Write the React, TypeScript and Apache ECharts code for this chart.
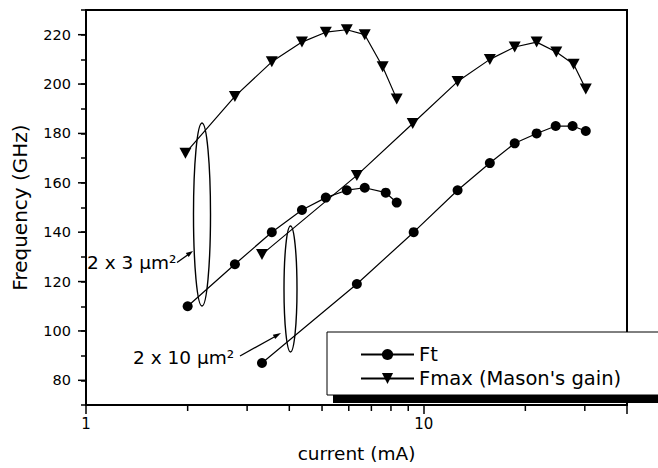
import React, { useEffect, useRef } from "react";
import * as echarts from "echarts";

// Small device (2 x 3 µm²)
const ftSmallCurrent = [2.0, 2.76, 3.55, 4.36, 5.13, 5.92, 6.69, 7.72, 8.32];
const ftSmallFreq = [110, 127, 140, 149, 154, 157, 158, 156, 152];
const fmaxSmallCurrent = [1.97, 2.76, 3.55, 4.36, 5.13, 5.92, 6.69, 7.56, 8.32];
const fmaxSmallFreq = [172, 195, 209, 217, 221, 222, 220, 207, 194];

// Large device (2 x 10 µm²)
const ftLargeCurrent = [3.32, 6.34, 9.34, 12.6, 15.7, 18.6, 21.6, 24.6, 27.6, 30.2];
const ftLargeFreq = [87, 119, 140, 157, 168, 176, 180, 183, 183, 181];
const fmaxLargeCurrent = [3.32, 6.34, 9.28, 12.6, 15.7, 18.6, 21.6, 24.7, 27.8, 30.2];
const fmaxLargeFreq = [131, 163, 184, 201, 210, 215, 217, 213, 208, 198];

// Axis ticks
const xMinorTicks = [2, 3, 4, 5, 6, 7, 8, 9, 20, 30];
const yMajorTicks = [80, 100, 120, 140, 160, 180, 200, 220];

const FT = "Ft";
const FMAX = "Fmax (Mason's gain)";
const FONT = "DejaVu Sans";

const pairs = (xs: number[], ys: number[]) => xs.map((x, i) => [x, ys[i]]);

export default function App() {
  const ref = useRef<HTMLDivElement>(null);

  useEffect(() => {
    if (!ref.current) return;
    const chart = echarts.init(ref.current, undefined, { renderer: "svg" });

    const lineBase = {
      type: "line" as const,
      color: "#000",
      lineStyle: { color: "#000", width: 1.2 },
      itemStyle: { color: "#000" },
      emphasis: { disabled: true },
      z: 5,
    };
    const circle = { symbol: "circle", symbolSize: 10 };
    const tri = { symbol: "triangle", symbolRotate: 180, symbolSize: [12, 11] };

    const option: any = {
      animation: false,
      backgroundColor: "#fff",
      grid: {
        left: 86,
        right: 31,
        top: 10,
        bottom: 59,
        show: true,
        borderColor: "#000",
        borderWidth: 2,
        backgroundColor: "transparent",
      },
      xAxis: {
        type: "log",
        logBase: 10,
        min: 1,
        max: 40,
        name: "current (mA)",
        nameLocation: "middle",
        nameGap: 39,
        nameTextStyle: { fontFamily: FONT, fontSize: 18.5, color: "#000" },
        axisLine: { lineStyle: { color: "#000", width: 2 } },
        axisTick: { show: true, length: 9, inside: false, lineStyle: { color: "#000", width: 1.5 } },
        axisLabel: {
          fontFamily: FONT,
          fontSize: 15,
          color: "#000",
          margin: 11,
          formatter: (v: number) => {
            const l = Math.log10(v);
            return Math.abs(l - Math.round(l)) < 1e-6 ? String(Math.round(v)) : "";
          },
        },
        splitLine: { show: false },
        minorTick: { show: false },
      },
      yAxis: {
        type: "value",
        min: 70,
        max: 230,
        interval: 10,
        name: "Frequency (GHz)",
        nameLocation: "middle",
        nameGap: 56,
        nameTextStyle: { fontFamily: FONT, fontSize: 20, color: "#000" },
        axisLine: { show: true, lineStyle: { color: "#000", width: 2 } },
        axisTick: { show: true, length: 5, inside: false, lineStyle: { color: "#000", width: 1.5 } },
        axisLabel: {
          fontFamily: FONT,
          fontSize: 14.5,
          color: "#000",
          margin: 15,
          formatter: (v: number) => (v % 20 === 0 ? String(v) : ""),
        },
        splitLine: { show: false },
      },
      legend: {
        data: [FT, FMAX],
        orient: "vertical",
        left: 360,
        top: 343,
        itemWidth: 53,
        itemHeight: 14,
        itemGap: 1,
        padding: 0,
        selectedMode: false,
        textStyle: { fontFamily: FONT, fontSize: 19.5, color: "#000", lineHeight: 23 },
        z: 10,
      },
      graphic: [
        // legend shadow and box
        {
          type: "rect",
          z: 8,
          shape: { x: 333, y: 394, width: 340, height: 9 },
          style: { fill: "#000" },
        },
        {
          type: "rect",
          z: 9,
          shape: { x: 327, y: 332, width: 340, height: 63 },
          style: { fill: "#fff", stroke: "#000", lineWidth: 1 },
        },
        // device ellipses
        {
          type: "ellipse",
          z: 6,
          shape: { cx: 202, cy: 214.5, rx: 8.5, ry: 91.5 },
          style: { fill: "none", stroke: "#000", lineWidth: 1.4 },
        },
        {
          type: "ellipse",
          z: 6,
          shape: { cx: 290.5, cy: 289, rx: 6.5, ry: 63 },
          style: { fill: "none", stroke: "#000", lineWidth: 1.4 },
        },
        // labels
        {
          type: "text",
          z: 6,
          x: 87,
          y: 262,
          style: {
            text: "2 x 3 µm²",
            fontFamily: FONT,
            fontSize: 18.5,
            fill: "#000",
            textAlign: "left",
            textVerticalAlign: "middle",
          },
        },
        {
          type: "text",
          z: 6,
          x: 133,
          y: 357,
          style: {
            text: "2 x 10 µm²",
            fontFamily: FONT,
            fontSize: 18.5,
            fill: "#000",
            textAlign: "left",
            textVerticalAlign: "middle",
          },
        },
        // arrows
        {
          type: "line",
          z: 6,
          shape: { x1: 177, y1: 262.5, x2: 189, y2: 254 },
          style: { stroke: "#000", lineWidth: 1.3 },
        },
        {
          type: "polygon",
          z: 6,
          shape: { points: [[193, 251], [188.7, 257.1], [185.8, 253.0]] },
          style: { fill: "#000" },
        },
        {
          type: "line",
          z: 6,
          shape: { x1: 240, y1: 356, x2: 276, y2: 336 },
          style: { stroke: "#000", lineWidth: 1.3 },
        },
        {
          type: "polygon",
          z: 6,
          shape: { points: [[281, 333], [275.2, 339.1], [272.8, 334.7]] },
          style: { fill: "#000" },
        },
      ],
      series: [
        { ...lineBase, ...circle, name: FT, data: pairs(ftSmallCurrent, ftSmallFreq) },
        { ...lineBase, ...circle, name: FT, data: pairs(ftLargeCurrent, ftLargeFreq) },
        { ...lineBase, ...tri, name: FMAX, data: pairs(fmaxSmallCurrent, fmaxSmallFreq) },
        { ...lineBase, ...tri, name: FMAX, data: pairs(fmaxLargeCurrent, fmaxLargeFreq) },
        {
          type: "custom",
          name: "xMinorTicks",
          silent: true,
          clip: false,
          z: 4,
          data: xMinorTicks.map((v) => [v, 70]),
          renderItem: (params: any, api: any) => {
            const p = api.coord([api.value(0), api.value(1)]);
            return {
              type: "line",
              shape: { x1: p[0], y1: p[1], x2: p[0], y2: p[1] + 6 },
              style: { stroke: "#000", lineWidth: 1.5 },
            };
          },
        },
        {
          type: "custom",
          name: "yMajorTicks",
          silent: true,
          clip: false,
          z: 4,
          data: yMajorTicks.map((v) => [1, v]),
          renderItem: (params: any, api: any) => {
            const p = api.coord([api.value(0), api.value(1)]);
            return {
              type: "line",
              shape: { x1: p[0] - 8, y1: p[1], x2: p[0], y2: p[1] },
              style: { stroke: "#000", lineWidth: 1.5 },
            };
          },
        },
      ],
    };

    chart.setOption(option);
    return () => chart.dispose();
  }, []);

  return (
    <div
      ref={ref}
      style={{ position: "fixed", left: 0, top: 0, width: 658, height: 468, background: "#fff" }}
    />
  );
}
